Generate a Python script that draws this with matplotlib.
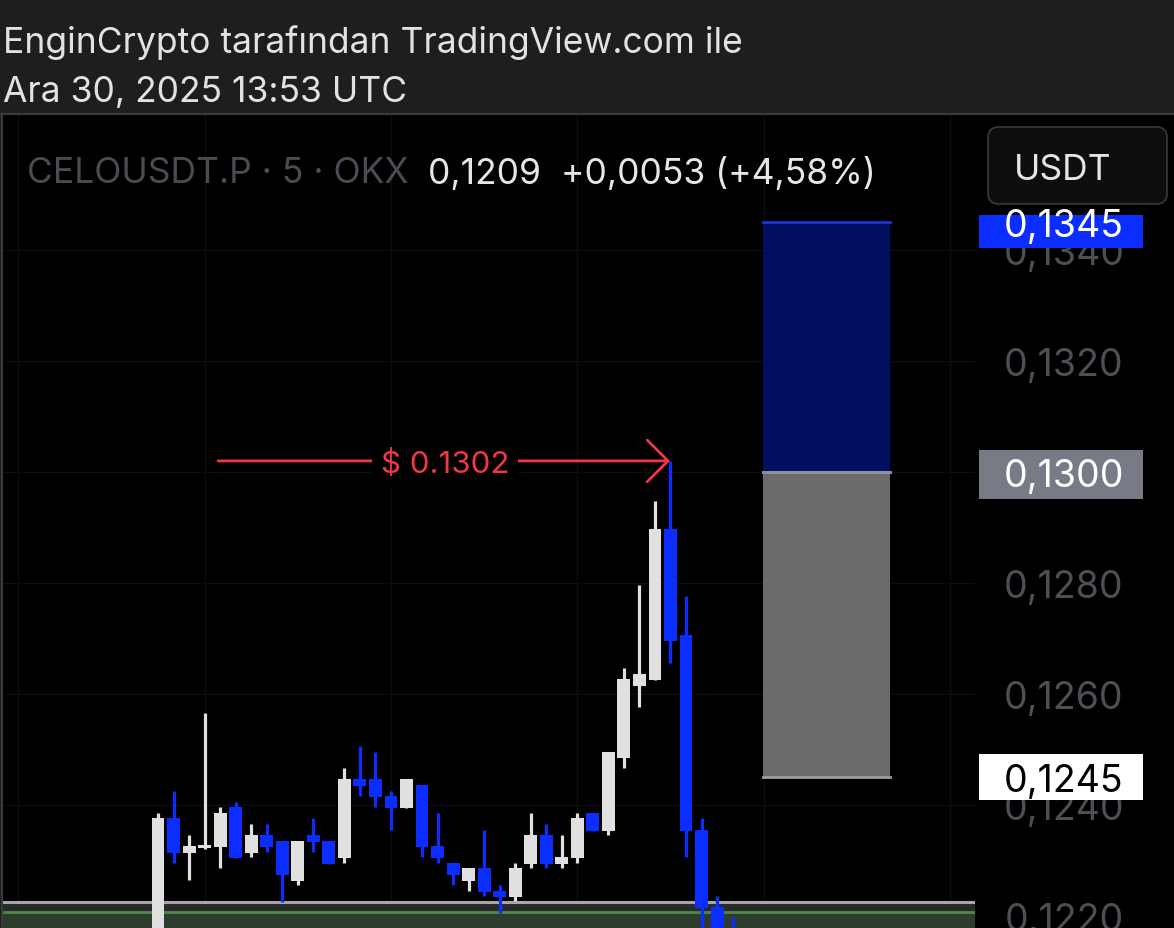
import matplotlib
matplotlib.use("Agg")
import matplotlib.pyplot as plt
from matplotlib.patches import Rectangle, FancyBboxPatch
from matplotlib.lines import Line2D
import numpy as np

# ---------------- data ----------------
opens = [0.12140, 0.12377, 0.12314, 0.12322, 0.12324, 0.12396, 0.12314, 0.12346,
         0.12335, 0.12263, 0.12346, 0.12335, 0.12305, 0.12447, 0.12447, 0.12416,
         0.12395, 0.12436, 0.12326, 0.12296, 0.12263, 0.12286, 0.12245, 0.12234,
         0.12294, 0.12346, 0.12294, 0.12305, 0.12386, 0.12353, 0.12485, 0.12614,
         0.12625, 0.12897, 0.12706, 0.12355, 0.12216, 0.12170]
highs = [0.12386, 0.12425, 0.12346, 0.12566, 0.12396, 0.12405, 0.12366, 0.12366,
         0.12335, 0.12335, 0.12377, 0.12335, 0.12467, 0.12506, 0.12495, 0.12425,
         0.12447, 0.12436, 0.12386, 0.12296, 0.12286, 0.12355, 0.12256, 0.12296,
         0.12386, 0.12366, 0.12346, 0.12386, 0.12386, 0.12495, 0.12647, 0.12796,
         0.12948, 0.13020, 0.12777, 0.12377, 0.12236, 0.12198]
lows = [0.12100, 0.12295, 0.12265, 0.12321, 0.12286, 0.12304, 0.12306, 0.12315,
        0.12225, 0.12256, 0.12315, 0.12294, 0.12296, 0.12416, 0.12396, 0.12355,
        0.12395, 0.12306, 0.12296, 0.12256, 0.12245, 0.12236, 0.12205, 0.12227,
        0.12286, 0.12286, 0.12286, 0.12296, 0.12353, 0.12346, 0.12467, 0.12577,
        0.12625, 0.12656, 0.12306, 0.12150, 0.12130, 0.12100]
closes = [0.12377, 0.12314, 0.12326, 0.12328, 0.12386, 0.12305, 0.12346, 0.12324,
          0.12274, 0.12335, 0.12333, 0.12294, 0.12447, 0.12434, 0.12414, 0.12395,
          0.12447, 0.12324, 0.12305, 0.12274, 0.12286, 0.12243, 0.12234, 0.12286,
          0.12346, 0.12294, 0.12306, 0.12377, 0.12353, 0.12495, 0.12627, 0.12636,
          0.12897, 0.12696, 0.12353, 0.12214, 0.12160, 0.12140]

price_ticks = [0.1220, 0.1240, 0.1260, 0.1280, 0.1300, 0.1320, 0.1340]
target_top = 0.1345      # blue zone top
entry_price = 0.1300     # zone split
stop_price = 0.1245      # grey zone bottom
high_mark = 0.1302       # arrow label
support_top = 0.12225
support_line = 0.12207

header1 = "EnginCrypto tarafından TradingView.com ile"
header2 = "Ara 30, 2025 13:53 UTC"
symbol_txt = "CELOUSDT.P · 5 · OKX"
quote_txt = "0,1209  +0,0053 (+4,58%)"
currency_txt = "USDT"

# ---------------- styling ----------------
W, H = 1174, 929
FONT = ['Inter', 'DejaVu Sans']
UP = '#e0e0e0'
DOWN = '#0b2dff'
BG_HEAD = '#1e1e1e'

fig = plt.figure(figsize=(W / 100, H / 100), dpi=100, facecolor=BG_HEAD)

def fx(x):
    return x / W

def fy(y):
    return 1 - y / H

top_px = 116
ax = fig.add_axes([fx(2), 0, fx(975) - fx(2), (H - top_px) / H], facecolor='black')
axp = fig.add_axes([fx(975), 0, fx(W) - fx(975), (H - top_px) / H], facecolor='black', sharey=ax)

px_per_bar = 15.53
x0_px = 158
ax.set_xlim((2 - x0_px) / px_per_bar, (975 - x0_px) / px_per_bar)
px_per_price = 55500
ax.set_ylim(0.1300 - (H - 473) / px_per_price, 0.1300 + (473 - top_px) / px_per_price)

for a in (ax, axp):
    a.set_xticks([])
    a.tick_params(left=False, right=False, labelleft=False, labelright=False)
    for s in a.spines.values():
        s.set_visible(False)
axp.set_xlim(0, 1)

# faint grid
for gx in range(-9, 53, 12):
    ax.axvline(gx, color='#0d0d0d', lw=1, zorder=0)
for p in price_ticks:
    ax.axhline(p, color='#0d0d0d', lw=1, zorder=0)

# support zone at bottom
ylo = ax.get_ylim()[0]
ax.axhspan(support_line, support_top, color='#2a2a2a', zorder=1, lw=0)
ax.axhspan(ylo, support_line, color='#2e3c2e', zorder=1, lw=0)
ax.axhline(support_top, color='#a6a6a6', lw=2.2, zorder=1.5)
ax.axhline(support_line, color='#4b8a47', lw=2.0, zorder=1.5)

# long-position zones
zx0 = (763 - x0_px) / px_per_bar
zx1 = (890 - x0_px) / px_per_bar
ax.add_patch(Rectangle((zx0, entry_price), zx1 - zx0, target_top - entry_price,
                       facecolor='#00105e', edgecolor='none', zorder=2))
ax.add_patch(Rectangle((zx0, stop_price), zx1 - zx0, entry_price - stop_price,
                       facecolor='#6b6b6b', edgecolor='none', zorder=2))
ax.plot([zx0, zx1], [target_top, target_top], color='#1d33d6', lw=2, zorder=2.5)
ax.plot([zx0, zx1], [entry_price, entry_price], color='#8a909c', lw=2.2, zorder=2.5)
ax.plot([zx0, zx1], [stop_price, stop_price], color='#9c9c9c', lw=2, zorder=2.5)

# candles
xs = np.arange(len(opens))
o = np.array(opens); c = np.array(closes); h = np.array(highs); l = np.array(lows)
cols = [UP if cc >= oo else DOWN for oo, cc in zip(o, c)]
ax.vlines(xs, l, h, colors=cols, lw=2.3, zorder=3)
bottoms = np.minimum(o, c)
heights = np.maximum(np.abs(c - o), 0.00005)
ax.bar(xs, heights, bottom=bottoms, width=0.83, color=cols, lw=0, zorder=3.5)

# arrow with label
ax_start = (218 - x0_px) / px_per_bar
ax_end = (670 - x0_px) / px_per_bar
red = '#f23645'
ax.annotate('', xy=(ax_end, high_mark), xytext=(ax_start, high_mark),
            arrowprops=dict(arrowstyle='->,head_length=0.75,head_width=0.75',
                            color=red, lw=2, mutation_scale=20, shrinkA=0, shrinkB=0),
            zorder=4)
ax.text((445 - x0_px) / px_per_bar, high_mark, "$ 0.1302", color=red, fontsize=22.5,
        family=FONT, ha='center', va='center_baseline', zorder=5,
        bbox=dict(facecolor='black', edgecolor='none', pad=6))

# price scale
def fmt(v):
    return f"{v:.4f}".replace('.', ',')

lab_x = (1064 - 975) / (W - 975)
LBL_FS = 27
for p in price_ticks:
    axp.text(lab_x, p, fmt(p), color='#4d4f57', fontsize=LBL_FS, family=FONT,
             ha='center', va='center_baseline', zorder=2)

def pprice(y):
    return 0.1300 - (y - 473) / px_per_price

bx0 = (979 - 975) / (W - 975)
def label_box(x1_px, y_top, y_bot, price, face, tcol):
    bx1 = (x1_px - 975) / (W - 975)
    r = Rectangle((bx0, pprice(y_bot)), bx1 - bx0, pprice(y_top) - pprice(y_bot),
                  transform=axp.transData, facecolor=face, edgecolor='none', zorder=5)
    axp.add_patch(r)
    t = axp.text(lab_x, price, fmt(price), color=tcol, fontsize=LBL_FS, family=FONT,
                 ha='center', va='center_baseline', zorder=6)
    t.set_clip_path(r)

label_box(1143, 216, 249, target_top, '#0b2dff', 'white')
label_box(1143, 451, 500, entry_price, '#787b86', 'white')
label_box(1143, 755, 801, stop_price, 'white', 'black')

# borders
fig.add_artist(Line2D([0, 1], [fy(115), fy(115)], color='#3a3a3a', lw=1.5))
fig.add_artist(Line2D([fx(2), fx(2)], [0, fy(115)], color='#3a3a3a', lw=1.5))

# header text
fig.text(fx(3), fy(39), header1, color='#e2e2e2', fontsize=25.5, family=FONT, va='center_baseline', ha='left')
fig.text(fx(3), fy(89), header2, color='#e2e2e2', fontsize=25.5, family=FONT, va='center_baseline', ha='left')

# legend line in chart
fig.text(fx(27), fy(170), symbol_txt, color='#4a4b54', fontsize=25.5, family=FONT, va='center_baseline', ha='left')
fig.text(fx(428), fy(170), quote_txt, color='#e6e6e6', fontsize=25.5, family=FONT, va='center_baseline', ha='left')

# currency button
btn = FancyBboxPatch((fx(988), fy(205)), fx(1167) - fx(988), fy(128) - fy(205),
                     boxstyle='round,pad=0,rounding_size=0.009', mutation_aspect=W / H,
                     transform=fig.transFigure, facecolor='#0e0e0e', edgecolor='#3a3a3a', lw=1.2)
fig.add_artist(btn)
fig.text(fx(1063), fy(167), currency_txt, color='#e6e6e6', fontsize=25.5, family=FONT, va='center_baseline', ha='center')

fig.savefig('out.png', dpi=100, facecolor=BG_HEAD)
